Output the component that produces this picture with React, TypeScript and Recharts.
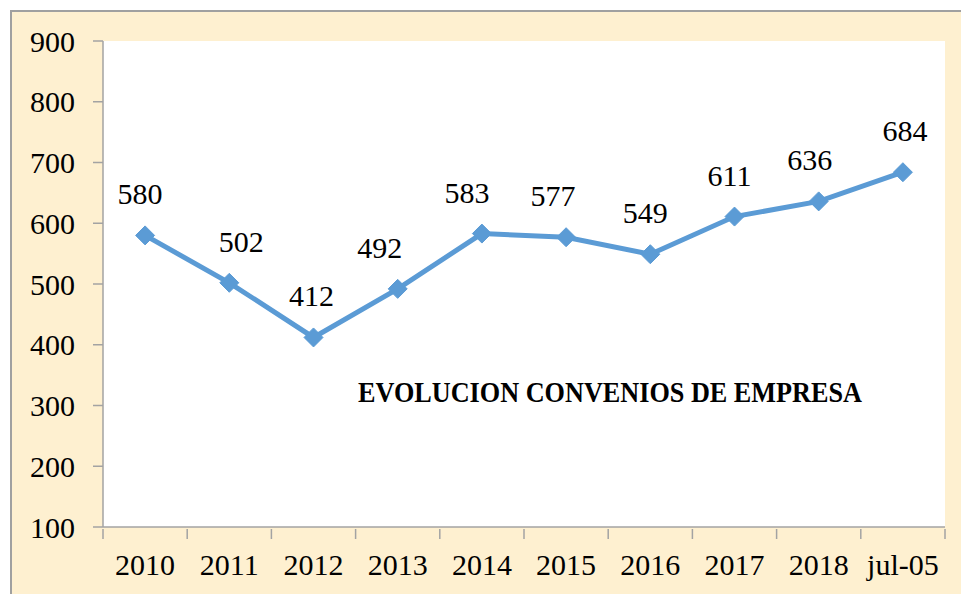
import React from 'react';
import { LineChart, Line, XAxis, YAxis, CartesianGrid, LabelList, Customized } from 'recharts';

const categories = ['2010', '2011', '2012', '2013', '2014', '2015', '2016', '2017', '2018', 'jul-05'];
const values = [580, 502, 412, 492, 583, 577, 549, 611, 636, 684];
const yTicks = [100, 200, 300, 400, 500, 600, 700, 800, 900];
const title = 'EVOLUCION CONVENIOS DE EMPRESA';

// label nudges (style only)
const labelDx = [-5, 12, -2, -18, -15, -13, -5, -5, -9, 2];

const data = categories.map((c, i) => ({ name: c, value: values[i] }));

const W = 961;
const H = 594;
const M = { top: 41, right: 16, left: 0, bottom: 0 };
const Y_AXIS_W = 103;
const X_AXIS_H = 67;
const BAND = (W - M.right - Y_AXIS_W) / categories.length;
const FONT = '"Liberation Serif", "Times New Roman", serif';
const AXIS_COLOR = '#A3A3A3';
const LINE_COLOR = '#5B9BD5';

const XTick = (props: any) => {
  const { x, y, payload, index } = props;
  return (
    <g>
      <line x1={x - BAND / 2} x2={x - BAND / 2} y1={y} y2={y + 10} stroke={AXIS_COLOR} strokeWidth={1.5} />
      {index === categories.length - 1 && (
        <line x1={x + BAND / 2} x2={x + BAND / 2} y1={y} y2={y + 10} stroke={AXIS_COLOR} strokeWidth={1.5} />
      )}
      <text x={x} y={y + 46} textAnchor="middle" fontFamily={FONT} fontSize={30} fill="#000">
        {payload.value}
      </text>
    </g>
  );
};

const Diamond = (props: any) => {
  const { cx, cy } = props;
  const r = 9.5;
  return (
    <polygon
      points={`${cx},${cy - r} ${cx + r},${cy} ${cx},${cy + r} ${cx - r},${cy}`}
      fill={LINE_COLOR}
      stroke={LINE_COLOR}
      strokeWidth={1}
    />
  );
};

const ValueLabel = (props: any) => {
  const { x, y, value, index } = props;
  return (
    <text x={x + labelDx[index]} y={y - 31} textAnchor="middle" fontFamily={FONT} fontSize={30} fill="#000">
      {value}
    </text>
  );
};

const Title = () => (
  <text
    x={358}
    y={402}
    fontFamily={FONT}
    fontWeight="bold"
    fontSize={29}
    textLength={504}
    lengthAdjust="spacingAndGlyphs"
    fill="#000"
  >
    {title}
  </text>
);

export default function App() {
  return (
    <div style={{ position: 'absolute', left: 0, top: 0, width: W, height: H, overflow: 'hidden', background: '#fff' }}>
      <div
        style={{
          position: 'absolute',
          left: 10,
          top: 10,
          width: W + 20,
          height: H + 20,
          background: '#FEF0D0',
          borderLeft: '2px solid #A0A0A0',
          borderTop: '2px solid #A0A0A0',
        }}
      />
      <div style={{ position: 'absolute', left: 0, top: 0 }}>
        <LineChart width={W} height={H} data={data} margin={M}>
          <CartesianGrid fill="#FFFFFF" stroke="none" horizontal={false} vertical={false} />
          <XAxis
            dataKey="name"
            height={X_AXIS_H}
            interval={0}
            padding={{ left: BAND / 2, right: BAND / 2 }}
            tickSize={0}
            tickLine={false}
            axisLine={{ stroke: AXIS_COLOR, strokeWidth: 1.5 }}
            tick={<XTick />}
          />
          <YAxis
            width={Y_AXIS_W}
            domain={[100, 900]}
            ticks={yTicks}
            interval={0}
            tickSize={10}
            tickMargin={18}
            axisLine={{ stroke: AXIS_COLOR, strokeWidth: 1.5 }}
            tickLine={{ stroke: AXIS_COLOR, strokeWidth: 1.5 }}
            tick={{ fontFamily: FONT, fontSize: 30, fill: '#000' }}
          />
          <Line
            type="linear"
            dataKey="value"
            stroke={LINE_COLOR}
            strokeWidth={5}
            dot={<Diamond />}
            activeDot={false}
            isAnimationActive={false}
          >
            <LabelList dataKey="value" content={<ValueLabel />} />
          </Line>
          <Customized component={<Title />} />
        </LineChart>
      </div>
    </div>
  );
}
